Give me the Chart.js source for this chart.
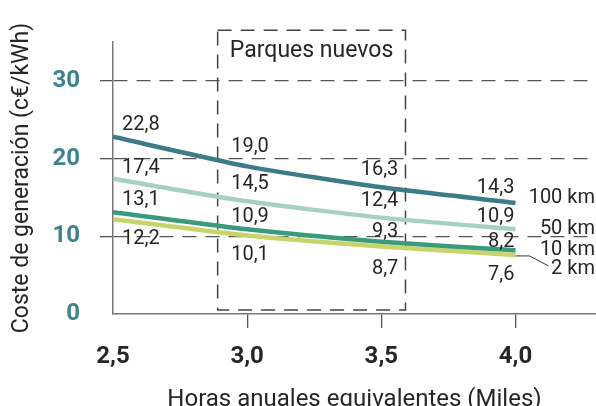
<!DOCTYPE html>
<html>
<head>
<meta charset="utf-8">
<script src="https://cdn.jsdelivr.net/npm/chart.js@4"></script>
<style>
  html, body { margin: 0; padding: 0; background: #fff; }
  #wrap { width: 596px; height: 406px; }
</style>
</head>
<body>
<div id="wrap"><canvas id="costChart"></canvas></div>
<script>
// data
const hours = [2.5, 3.0, 3.5, 4.0];
const cost100km = [22.8, 19.0, 16.3, 14.3];
const cost50km = [17.4, 14.5, 12.4, 10.9];
const cost10km = [13.1, 10.9, 9.3, 8.2];
const cost2km = [12.2, 10.1, 8.7, 7.6];
const seriesNames = ['100 km', '50 km', '10 km', '2 km'];
const newParksLabel = 'Parques nuevos';
const newParksRange = [2.89, 3.59];

const FONT = 'Roboto, "Noto Sans", sans-serif';
const TEXT = '#262626';
const colors = ['#3c7b87', '#a8d0c2', '#3a9a7d', '#c7d46a'];

// label placement (pixels)
const valueDy = [[-12, -19, -17, -15], [-11, -17, -17, -12], [-12, -12, -10, -8], [20, 19, 23, 20]];
const nameDy = [-5, 0, 0, 14];

const fmt = v => v.toFixed(1).replace('.', ',');
const toPoints = arr => hours.map((h, i) => ({ x: h, y: arr[i] }));

const annotate = {
  id: 'annotate',
  beforeDatasetsDraw(chart) {
    const { ctx, scales: { x, y } } = chart;
    const x1 = x.getPixelForValue(newParksRange[0]);
    const x2 = x.getPixelForValue(newParksRange[1]);
    const y1 = y.getPixelForValue(36.5);
    const y2 = y.getPixelForValue(0.5);
    ctx.save();
    ctx.strokeStyle = '#444';
    ctx.lineWidth = 1.5;
    ctx.setLineDash([14, 9]);
    ctx.strokeRect(x1, y1, x2 - x1, y2 - y1);
    ctx.setLineDash([]);
    ctx.fillStyle = '#fff';
    ctx.fillRect(x1 + 5, y1 + 7, x2 - x1 - 10, 30);
    ctx.fillStyle = TEXT;
    ctx.font = '23px ' + FONT;
    ctx.textAlign = 'center';
    ctx.textBaseline = 'middle';
    ctx.fillText(newParksLabel, (x1 + x2) / 2, y1 + 21);
    ctx.restore();
  },
  afterDatasetsDraw(chart) {
    const { ctx, chartArea } = chart;
    ctx.save();
    ctx.font = '20px ' + FONT;
    ctx.fillStyle = TEXT;
    ctx.textBaseline = 'middle';
    chart.data.datasets.forEach((ds, d) => {
      const pts = chart.getDatasetMeta(d).data;
      pts.forEach((p, i) => {
        const txt = fmt(ds.data[i].y);
        let tx = p.x;
        if (i === 0) { ctx.textAlign = 'left'; tx = p.x + 9; }
        else if (i === 1) { ctx.textAlign = 'left'; tx = p.x - 16; }
        else if (i === 2) { ctx.textAlign = 'right'; tx = p.x + 17; }
        else { ctx.textAlign = 'right'; tx = p.x - 1; }
        ctx.fillText(txt, tx, p.y + valueDy[d][i]);
      });
      const last = pts[pts.length - 1];
      ctx.textAlign = 'right';
      ctx.fillText(ds.label, chartArea.right - 1, last.y + nameDy[d]);
      if (d === 3) {
        ctx.strokeStyle = '#333';
        ctx.lineWidth = 1;
        ctx.beginPath();
        ctx.moveTo(last.x, last.y + 1);
        ctx.lineTo(last.x + 14, last.y + 1);
        ctx.lineTo(last.x + 33, last.y + 11);
        ctx.stroke();
      }
    });
    ctx.restore();
  }
};

const seriesData = [cost100km, cost50km, cost10km, cost2km];

const costChart = new Chart(document.getElementById('costChart'), {
  type: 'line',
  data: {
    datasets: seriesData.map((arr, i) => ({
      label: seriesNames[i],
      data: toPoints(arr),
      borderColor: colors[i],
      borderWidth: 4.5,
      pointRadius: 0,
      tension: 0.2,
      fill: false
    }))
  },
  options: {
    responsive: true,
    maintainAspectRatio: false,
    animation: false,
    layout: { padding: { top: 42, left: 0, right: 0, bottom: 0 } },
    plugins: {
      legend: { display: false },
      tooltip: { enabled: false }
    },
    scales: {
      x: {
        type: 'linear',
        min: 2.5,
        max: 4.3,
        afterFit(s) { s.height = 92; },
        border: { color: '#777', width: 1.5 },
        grid: {
          drawOnChartArea: false,
          tickLength: 14,
          lineWidth: 1.3,
          tickColor: c => (c.tick && c.tick.value === 2.5 ? 'rgba(0,0,0,0)' : '#555')
        },
        ticks: {
          stepSize: 0.5,
          includeBounds: false,
          padding: 15,
          color: TEXT,
          font: { family: FONT, size: 24, weight: 'bold' },
          callback: v => fmt(v)
        },
        title: {
          display: true,
          text: 'Horas anuales equivalentes (Miles)',
          color: TEXT,
          font: { family: FONT, size: 24, lineHeight: 1 },
          padding: { top: 0, bottom: -6 }
        }
      },
      y: {
        min: 0,
        max: 35,
        afterFit(s) { s.width = 113; },
        border: { color: '#777', width: 1.5, dash: [14, 9] },
        grid: {
          lineWidth: 1.3,
          tickLength: 13,
          color: c => (c.tick && c.tick.value === 0 ? 'rgba(0,0,0,0)' : '#555'),
          tickColor: c => (c.tick && c.tick.value === 0 ? 'rgba(0,0,0,0)' : '#555'),
          tickBorderDash: []
        },
        ticks: {
          stepSize: 10,
          includeBounds: false,
          padding: 20,
          color: '#3c8291',
          font: { family: FONT, size: 24, weight: 'bold' }
        },
        title: {
          display: true,
          text: 'Coste de generación (c€/kWh)',
          color: TEXT,
          font: { family: FONT, size: 23, lineHeight: 1 },
          padding: { top: 11, bottom: 0 }
        }
      }
    }
  },
  plugins: [annotate]
});
</script>
</body>
</html>
